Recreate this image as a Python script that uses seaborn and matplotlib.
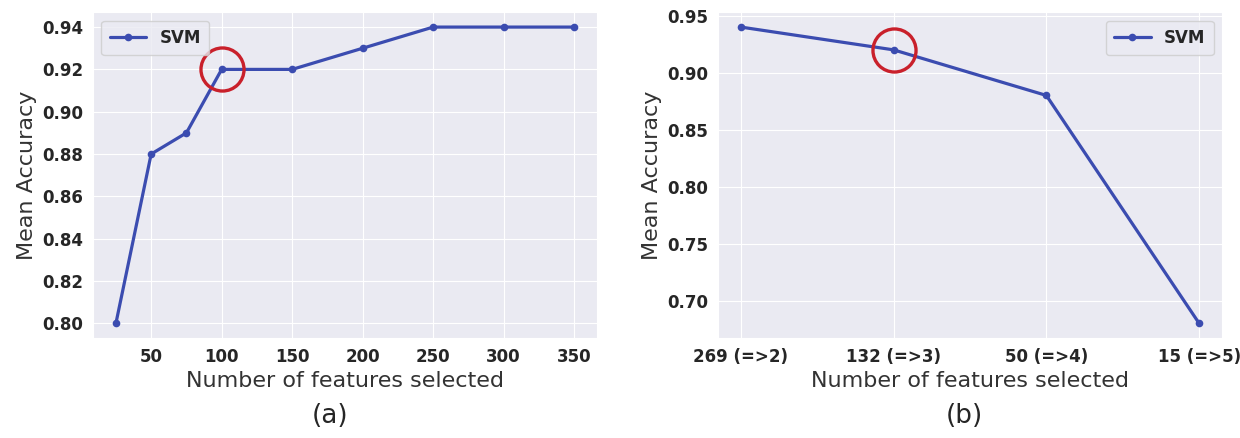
import pandas as pd
import matplotlib.pyplot as plt
import seaborn as sns

# panel (a): accuracy vs number of selected features
n_features_a = [25, 50, 75, 100, 150, 200, 250, 300, 350]
acc_a = [0.80, 0.88, 0.89, 0.92, 0.92, 0.93, 0.94, 0.94, 0.94]
best_a = (100, 0.92)

# panel (b): accuracy vs threshold-based feature sets
labels_b = ['269 (=>2)', '132 (=>3)', '50 (=>4)', '15 (=>5)']
acc_b = [0.94, 0.92, 0.88, 0.68]
best_b = ('132 (=>3)', 0.92)

line_col = '#3b4cb0'
circle_col = '#c9202b'

sns.set_style('darkgrid')
plt.rcParams['font.family'] = ['DejaVu Sans']

fig = plt.figure(figsize=(12.4, 4.38), dpi=100)
ax1 = fig.add_axes([0.075, 0.228, 0.4065, 0.744])
ax2 = fig.add_axes([0.579, 0.228, 0.4065, 0.744])

df_a = pd.DataFrame({'features': n_features_a, 'acc': acc_a})
df_b = pd.DataFrame({'features': labels_b, 'acc': acc_b})

sns.lineplot(data=df_a, x='features', y='acc', ax=ax1, color=line_col,
             marker='o', markersize=5.5, markeredgewidth=0, linewidth=2.3,
             label='SVM')
sns.lineplot(data=df_b, x='features', y='acc', ax=ax2, color=line_col,
             marker='o', markersize=5.5, markeredgewidth=0, linewidth=2.3,
             label='SVM', sort=False)

# red circle marking the chosen setting
ax1.plot([best_a[0]], [best_a[1]], marker='o', markersize=31, mfc='none',
         mec=circle_col, mew=2.4, linestyle='none')
ax2.plot([best_b[0]], [best_b[1]], marker='o', markersize=31, mfc='none',
         mec=circle_col, mew=2.4, linestyle='none')

ax1.set_xticks([50, 100, 150, 200, 250, 300, 350])
ax1.set_yticks([0.80, 0.82, 0.84, 0.86, 0.88, 0.90, 0.92, 0.94])
ax2.set_yticks([0.70, 0.75, 0.80, 0.85, 0.90, 0.95])

for ax, loc in [(ax1, 'upper left'), (ax2, 'upper right')]:
    ax.set_xlabel('Number of features selected', fontsize=16, color='#333333')
    ax.set_ylabel('Mean Accuracy', fontsize=16, color='#333333')
    for t in ax.get_xticklabels() + ax.get_yticklabels():
        t.set_fontweight('bold')
        t.set_fontsize(12)
        t.set_color('#262626')
    ax.legend(loc=loc, prop={'weight': 'bold', 'size': 12},
              handlelength=2.2, borderpad=0.5, frameon=True)

ax1.set_yticklabels(['%.2f' % v for v in ax1.get_yticks()],
                    fontweight='bold', fontsize=12)
ax2.set_yticklabels(['%.2f' % v for v in ax2.get_yticks()],
                    fontweight='bold', fontsize=12)

fig.text(0.266, 0.05, '(a)', fontsize=19, ha='center', va='center')
fig.text(0.778, 0.05, '(b)', fontsize=19, ha='center', va='center')

fig.savefig('out.png', dpi=100)
